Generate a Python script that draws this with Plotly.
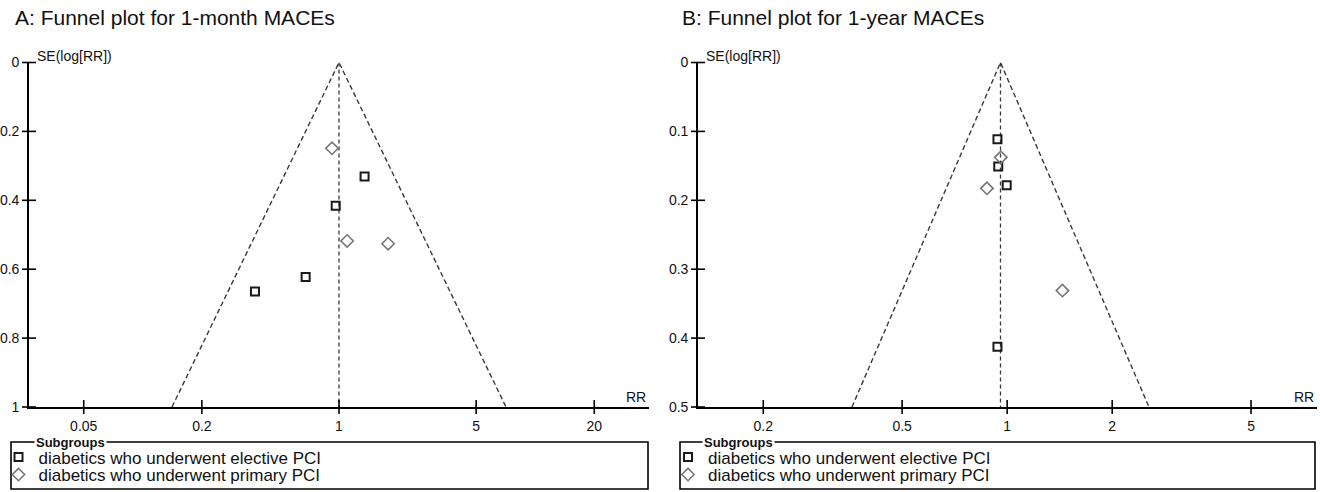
import math
import plotly.graph_objects as go

W, H = 1320, 492
FONT = "Liberation Sans, Arial, Helvetica, sans-serif"

# ---- Panel A: 1-month MACEs ----
a_elective_rr = [1.35, 0.962, 0.676, 0.373]
a_elective_se = [0.331, 0.416, 0.623, 0.665]
a_primary_rr = [0.921, 1.10, 1.78]
a_primary_se = [0.249, 0.518, 0.526]
a_pooled_rr = 1.0
a_se_max = 1.0
a_xticks = [0.05, 0.2, 1, 5, 20]
a_xticktext = ["0.05", "0.2", "1", "5", "20"]
a_yticks = [0, 0.2, 0.4, 0.6, 0.8, 1]
a_yticktext = ["0", "0.2", "0.4", "0.6", "0.8", "1"]

# ---- Panel B: 1-year MACEs ----
b_elective_rr = [0.938, 0.943, 0.997, 0.938]
b_elective_se = [0.1115, 0.151, 0.178, 0.4125]
b_primary_rr = [0.959, 0.875, 1.44]
b_primary_se = [0.1376, 0.1826, 0.331]
b_pooled_rr = 0.957
b_se_max = 0.5
b_xticks = [0.2, 0.5, 1, 2, 5]
b_xticktext = ["0.2", "0.5", "1", "2", "5"]
b_yticks = [0, 0.1, 0.2, 0.3, 0.4, 0.5]
b_yticktext = ["0", "0.1", "0.2", "0.3", "0.4", "0.5"]

titles = ["A: Funnel plot for 1-month MACEs", "B: Funnel plot for 1-year MACEs"]
series_names = ["diabetics who underwent elective PCI",
                "diabetics who underwent primary PCI"]
legend_title = "Subgroups"
y_label = "SE(log[RR])"
x_label = "RR"
Z = 1.96


def px(x):
    return x / W


def py(y):
    return 1 - y / H


fig = go.Figure()

panels = [
    dict(ax="", rr_el=a_elective_rr, se_el=a_elective_se,
         rr_pr=a_primary_rr, se_pr=a_primary_se, pooled=a_pooled_rr,
         se_max=a_se_max, xt=a_xticks, xtt=a_xticktext, yt=a_yticks,
         ytt=a_yticktext, xr=[-1.58, 1.58], xdom=[29, 649],
         leg=("legend", "legend2"), left=11, right=648, title_x=13,
         sub_x=34, title=titles[0]),
    dict(ax="2", rr_el=b_elective_rr, se_el=b_elective_se,
         rr_pr=b_primary_rr, se_pr=b_primary_se, pooled=b_pooled_rr,
         se_max=b_se_max, xt=b_xticks, xtt=b_xticktext, yt=b_yticks,
         ytt=b_yticktext, xr=[-0.886, 0.888], xdom=[698, 1317],
         leg=("legend3", "legend4"), left=680, right=1315, title_x=680,
         sub_x=702, title=titles[1]),
]

annotations = []
shapes = []
layout_axes = {}
tick_marker = dict(color="black", size=10, line=dict(width=1.6, color="black"))

for p in panels:
    xa, ya = "x" + p["ax"], "y" + p["ax"]
    lo = math.exp(math.log(p["pooled"]) - Z * p["se_max"])
    hi = math.exp(math.log(p["pooled"]) + Z * p["se_max"])
    x_left = 10 ** p["xr"][0]

    # funnel (pseudo 95% confidence limits)
    fig.add_trace(go.Scatter(
        x=[lo, p["pooled"], hi], y=[p["se_max"], 0, p["se_max"]],
        mode="lines", line=dict(color="#3a3a3a", width=1.4, dash="5px,3px"),
        xaxis=xa, yaxis=ya, showlegend=False, hoverinfo="skip"))
    # pooled estimate
    fig.add_trace(go.Scatter(
        x=[p["pooled"], p["pooled"]], y=[0, p["se_max"]],
        mode="lines", line=dict(color="#3a3a3a", width=1.3, dash="4px,3px"),
        xaxis=xa, yaxis=ya, showlegend=False, hoverinfo="skip"))
    # cross-shaped tick marks straddling both axis lines
    fig.add_trace(go.Scatter(
        x=p["xt"], y=[p["se_max"]] * len(p["xt"]), mode="markers",
        marker=dict(symbol="line-ns", **tick_marker), cliponaxis=False,
        xaxis=xa, yaxis=ya, showlegend=False, hoverinfo="skip"))
    fig.add_trace(go.Scatter(
        x=[x_left] * len(p["yt"]), y=p["yt"], mode="markers",
        marker=dict(symbol="line-ew", **tick_marker), cliponaxis=False,
        xaxis=xa, yaxis=ya, showlegend=False, hoverinfo="skip"))
    # studies
    fig.add_trace(go.Scatter(
        x=p["rr_el"], y=p["se_el"], mode="markers", name=series_names[0],
        marker=dict(symbol="square-open", size=8, color="#1a1a1a",
                    line=dict(width=2, color="#1a1a1a")),
        xaxis=xa, yaxis=ya, legend=p["leg"][0]))
    fig.add_trace(go.Scatter(
        x=p["rr_pr"], y=p["se_pr"], mode="markers", name=series_names[1],
        marker=dict(symbol="diamond-open", size=9.5, color="#777777",
                    line=dict(width=1.6, color="#777777")),
        xaxis=xa, yaxis=ya, legend=p["leg"][1]))

    common = dict(showgrid=False, zeroline=False, ticks="outside",
                  ticklen=5, tickwidth=1.6, tickcolor="rgba(0,0,0,0)",
                  showline=True, linecolor="black", linewidth=1.6,
                  tickfont=dict(family=FONT, size=14, color="#111"))
    layout_axes["xaxis" + p["ax"]] = dict(
        domain=[px(p["xdom"][0]), px(p["xdom"][1])], anchor=ya, type="log",
        range=p["xr"], tickmode="array", tickvals=p["xt"], ticktext=p["xtt"],
        **common)
    layout_axes["yaxis" + p["ax"]] = dict(
        domain=[py(407), py(62.5)], anchor=xa, range=[p["se_max"], 0],
        tickmode="array", tickvals=p["yt"], ticktext=p["ytt"], **common)

    # panel title
    annotations.append(dict(
        text=p["title"], x=px(p["title_x"]), y=py(17.5),
        xref="paper", yref="paper", xanchor="left", yanchor="middle",
        showarrow=False, font=dict(family=FONT, size=21, color="#111")))
    # axis labels
    annotations.append(dict(
        text=y_label, x=px(p["xdom"][0] + 6), y=py(56), xref="paper",
        yref="paper", xanchor="left", yanchor="middle", showarrow=False,
        font=dict(family=FONT, size=14, color="#111")))
    annotations.append(dict(
        text=x_label, x=px(p["xdom"][1] - 1), y=py(397), xref="paper",
        yref="paper", xanchor="right", yanchor="middle", showarrow=False,
        font=dict(family=FONT, size=14, color="#111")))
    # legend frame with its caption sitting on the top edge
    shapes.append(dict(
        type="rect", xref="paper", yref="paper", x0=px(p["left"]),
        x1=px(p["right"]), y0=py(489), y1=py(442),
        line=dict(color="black", width=1.6), fillcolor="rgba(0,0,0,0)"))
    annotations.append(dict(
        text="<b>" + legend_title + "</b>", x=px(p["sub_x"]), y=py(442),
        xref="paper", yref="paper", xanchor="left", yanchor="middle",
        showarrow=False, bgcolor="white", borderpad=1,
        font=dict(family=FONT, size=13, color="#111")))

legend_common = dict(
    xanchor="left", yanchor="middle", bgcolor="rgba(0,0,0,0)",
    borderwidth=0, font=dict(family=FONT, size=17, color="#111"))
legends = dict(
    legend=dict(x=px(-1.5), y=py(457.5), **legend_common),
    legend2=dict(x=px(-1.5), y=py(475), **legend_common),
    legend3=dict(x=px(668), y=py(457.5), **legend_common),
    legend4=dict(x=px(668), y=py(475), **legend_common),
)

fig.update_layout(
    width=W, height=H,
    margin=dict(l=0, r=0, t=0, b=0, autoexpand=False),
    paper_bgcolor="white", plot_bgcolor="white",
    showlegend=True,
    annotations=annotations, shapes=shapes,
    **layout_axes, **legends)

fig.write_html("out.html")
